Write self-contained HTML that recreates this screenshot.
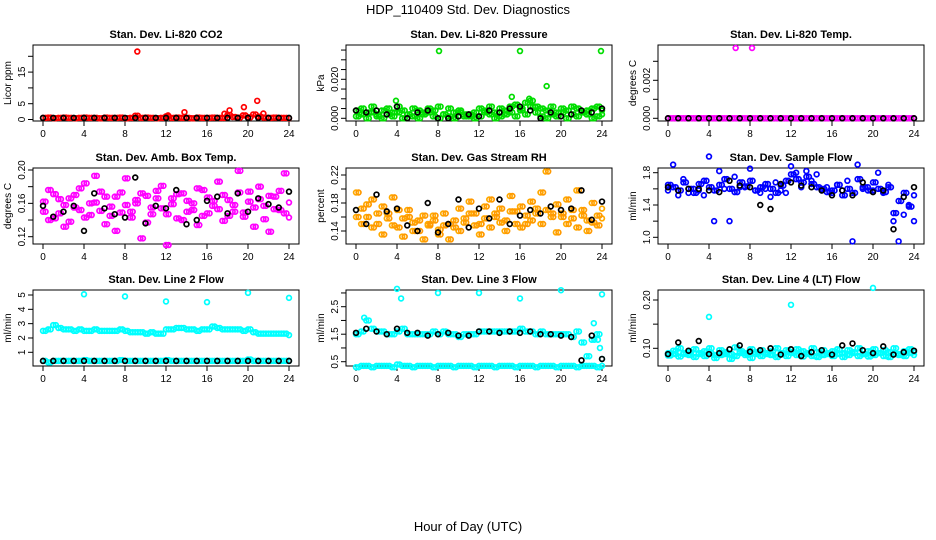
<!DOCTYPE html>
<html><head><meta charset="utf-8">
<style>
html,body{margin:0;padding:0;background:#fff;}
svg{display:block;font-family:"Liberation Sans",sans-serif;}
</style></head>
<body>
<svg id="chart" width="936" height="540" viewBox="0 0 936 540">
<text x="468" y="14" text-anchor="middle" font-size="13">HDP_110409  Std. Dev. Diagnostics</text>
<text x="468" y="531" text-anchor="middle" font-size="13">Hour of Day (UTC)</text>
</svg>
<script>
// shared time axes
const HALF = [0,0.5,1,1.5,2,2.5,3,3.5,4,4.5,5,5.5,6,6.5,7,7.5,8,8.5,9,9.5,10,10.5,11,11.5,12,12.5,13,13.5,14,14.5,15,15.5,16,16.5,17,17.5,18,18.5,19,19.5,20,20.5,21,21.5,22,22.5,23,23.5,24];
const OFFS = [0.25,0.75,1.25,1.75,2.25,2.75,3.25,3.75,4.25,4.75,5.25,5.75,6.25,6.75,7.25,7.75,8.25,8.75,9.25,9.75,10.25,10.75,11.25,11.75,12.25,12.75,13.25,13.75,14.25,14.75,15.25,15.75,16.25,16.75,17.25,17.75,18.25,18.75,19.25,19.75,20.25,20.75,21.25,21.75,22.25,22.75,23.25,23.75];
const HOURS = [0,1,2,3,4,5,6,7,8,9,10,11,12,13,14,15,16,17,18,19,20,21,22,23,24];
const xTicks = [0,4,8,12,16,20,24];

// Panel 1 CO2
const co2Red = [0.5,0.6,0.4,0.5,0.6,0.5,0.4,0.5,0.6,0.5,0.5,0.4,0.6,0.5,0.5,0.6,0.4,0.5,1.2,0.5,0.6,0.5,0.4,0.5,1.0,0.5,0.6,0.5,0.5,0.4,0.6,0.5,0.5,0.6,0.5,0.5,1.4,0.8,0.6,1.3,0.7,1.6,0.9,0.6,0.5,0.6,0.5,0.5,0.4];
const co2Black = [0.5,0.5,0.5,0.5,0.5,0.5,0.5,0.5,0.5,0.5,0.5,0.5,0.5,0.5,0.5,0.5,0.5,0.5,0.5,0.5,0.5,0.5,0.5,0.5,0.5];
const co2OutX = [9.2,13.8,17.7,18.2,19.6,20.9,21.5,12.2];
const co2OutY = [21.5,2.3,1.8,2.9,3.9,5.9,1.9,1.3];

// Panel 2 Pressure
const presGreenA = [0.004,0.005,0.003,0.006,0.002,0.004,0.005,0.003,0.006,0.004,0.002,0.005,0.004,0.003,0.005,0.004,0.006,0.002,0.005,0.003,0.004,0.002,0.001,0.003,0.005,0.004,0.006,0.003,0.005,0.004,0.006,0.007,0.005,0.008,0.009,0.006,0.005,0.004,0.006,0.003,0.005,0.004,0.006,0.005,0.003,0.004,0.005,0.006,0.004];
const presGreenB = [0.001,0.002,0.000,0.003,0.001,0.000,0.002,0.001,0.003,0.000,0.002,0.001,0.000,0.002,0.003,0.001,0.000,0.002,0.001,0.000,0.003,0.001,0.002,0.000,0.001,0.003,0.002,0.000,0.001,0.002,0.003,0.001,0.004,0.002,0.006,0.003,0.001,0.000,0.002,0.001,0.003,0.000,0.002,0.001,0.003,0.002,0.000,0.001,0.002];
const presBlack = [0.004,0.003,0.004,0.002,0.006,0.000,0.003,0.004,0.000,0.000,0.001,0.002,0.001,0.004,0.003,0.005,0.006,0.004,0.000,0.003,0.001,0.002,0.004,0.003,0.005];
const presOutX = [8.1,16,23.9,18.6,15.2,3.9,16.9];
const presOutY = [0.0345,0.0345,0.0345,0.0165,0.011,0.009,0.010];

// Panel 3 Temp
const tempMag = [0,0,0,0,0,0,0,0,0,0,0,0,0,0,0,0,0,0,0,0,0,0,0,0,0,0,0,0,0,0,0,0,0,0,0,0,0,0,0,0,0,0,0,0,0,0,0,0,0];
const tempBlack = [0,0,0,0,0,0,0,0,0,0,0,0,0,0,0,0,0,0,0,0,0,0,0,0,0];
const tempOutX = [6.6,8.2];
const tempOutY = [0.0037,0.0037];

// Panel 4 Amb box temp
const ambMagA = [0.150,0.176,0.142,0.165,0.158,0.138,0.170,0.152,0.184,0.146,0.161,0.174,0.135,0.156,0.168,0.149,0.190,0.143,0.160,0.172,0.137,0.155,0.166,0.181,0.147,0.159,0.171,0.140,0.163,0.152,0.178,0.145,0.167,0.157,0.186,0.139,0.164,0.150,0.173,0.144,0.162,0.155,0.180,0.141,0.169,0.153,0.175,0.148,0.161];
const ambMagB = [0.162,0.140,0.171,0.148,0.132,0.166,0.155,0.178,0.143,0.160,0.193,0.151,0.168,0.145,0.127,0.173,0.158,0.150,0.164,0.118,0.169,0.147,0.175,0.154,0.110,0.166,0.142,0.172,0.150,0.160,0.134,0.176,0.148,0.163,0.153,0.170,0.145,0.158,0.199,0.149,0.174,0.132,0.165,0.157,0.126,0.168,0.152,0.196,0.143];
const ambBlack = [0.157,0.144,0.150,0.157,0.127,0.172,0.154,0.147,0.143,0.191,0.136,0.157,0.154,0.176,0.135,0.140,0.163,0.168,0.148,0.172,0.150,0.166,0.159,0.155,0.174];

// Panel 5 RH
const rhOrA = [0.195,0.172,0.160,0.185,0.150,0.175,0.165,0.188,0.145,0.158,0.170,0.152,0.140,0.162,0.148,0.155,0.135,0.165,0.150,0.145,0.172,0.158,0.182,0.165,0.150,0.175,0.185,0.160,0.172,0.155,0.190,0.168,0.175,0.150,0.182,0.165,0.195,0.170,0.160,0.178,0.165,0.185,0.158,0.198,0.170,0.155,0.180,0.162,0.172];
const rhOrB = [0.160,0.150,0.178,0.145,0.165,0.135,0.158,0.148,0.170,0.132,0.160,0.140,0.155,0.128,0.150,0.162,0.142,0.148,0.128,0.155,0.140,0.152,0.165,0.148,0.135,0.158,0.145,0.165,0.152,0.140,0.168,0.150,0.145,0.162,0.155,0.172,0.150,0.225,0.165,0.138,0.160,0.150,0.170,0.145,0.162,0.140,0.152,0.148,0.158];
const rhBlack = [0.170,0.150,0.192,0.168,0.172,0.148,0.140,0.180,0.138,0.150,0.185,0.145,0.172,0.158,0.185,0.150,0.162,0.170,0.165,0.175,0.170,0.172,0.198,0.156,0.182];

// Panel 6 Sample flow
const sfBlueA = [1.65,1.62,1.58,1.68,1.60,1.55,1.66,1.70,1.62,1.58,1.65,1.72,1.60,1.56,1.68,1.63,1.70,1.58,1.62,1.66,1.60,1.55,1.64,1.70,1.78,1.72,1.68,1.75,1.66,1.62,1.60,1.56,1.58,1.65,1.52,1.60,1.55,1.72,1.62,1.58,1.68,1.60,1.56,1.62,1.30,1.45,1.55,1.38,1.52];
const sfBlueB = [1.58,1.90,1.52,1.72,1.55,1.60,1.58,1.52,2.00,1.20,1.82,1.60,1.20,1.75,1.62,1.62,1.85,1.58,1.55,1.60,1.50,1.68,1.58,1.55,1.88,1.80,1.62,1.82,1.70,1.78,1.58,1.62,1.55,1.65,1.58,1.70,0.95,1.90,1.60,1.62,1.58,1.80,1.55,1.65,1.20,0.95,1.28,1.40,1.20];
const sfBlack = [1.62,1.58,1.60,1.60,1.58,1.56,1.70,1.64,1.62,1.40,1.35,1.66,1.68,1.64,1.62,1.58,1.52,1.58,1.52,1.68,1.56,1.58,1.10,1.50,1.62];

// Panel 7 Line 2
const l2CyanTop = [2.5,2.6,2.9,2.7,2.6,2.6,2.5,2.6,2.5,2.5,2.6,2.5,2.5,2.5,2.5,2.6,2.5,2.4,2.4,2.4,2.3,2.4,2.3,2.3,2.6,2.6,2.7,2.7,2.6,2.6,2.5,2.6,2.6,2.8,2.7,2.6,2.6,2.6,2.6,2.5,2.6,2.4,2.3,2.3,2.3,2.3,2.3,2.3,2.2];
const l2CyanLow = [0.4,0.3,0.4,0.4,0.4,0.4,0.4,0.4,0.45,0.4,0.4,0.4,0.4,0.4,0.4,0.45,0.4,0.4,0.4,0.4,0.4,0.4,0.4,0.4,0.45,0.4,0.4,0.4,0.4,0.4,0.4,0.4,0.4,0.4,0.4,0.4,0.4,0.4,0.4,0.4,0.5,0.4,0.4,0.4,0.4,0.4,0.4,0.4,0.4];
const l2Black = [0.4,0.4,0.4,0.4,0.4,0.4,0.4,0.4,0.4,0.4,0.4,0.4,0.4,0.4,0.4,0.4,0.4,0.4,0.4,0.4,0.4,0.4,0.4,0.4,0.4];
const l2OutX = [4,8,12,16,20,24];
const l2OutY = [5.05,4.9,4.55,4.5,5.15,4.8];

// Panel 8 Line 3
const l3CyanTop = [1.5,1.6,2.0,1.7,1.6,1.6,1.5,1.5,1.6,1.7,1.5,1.5,1.5,1.5,1.5,1.6,1.5,1.6,1.5,1.5,1.4,1.5,1.5,1.5,1.6,1.6,1.6,1.6,1.6,1.6,1.6,1.6,1.7,1.6,1.6,1.5,1.6,1.5,1.5,1.5,1.5,1.5,1.4,1.6,1.2,0.7,1.3,1.5,0.6];
const l3CyanLow = [0.3,0.35,0.35,0.3,0.35,0.35,0.35,0.3,0.4,0.35,0.35,0.3,0.35,0.35,0.35,0.3,0.35,0.35,0.35,0.3,0.35,0.35,0.35,0.3,0.35,0.35,0.35,0.3,0.35,0.35,0.35,0.3,0.35,0.35,0.35,0.3,0.35,0.35,0.35,0.3,0.35,0.35,0.35,0.3,0.35,0.35,0.35,0.3,0.35];
const l3Black = [1.55,1.7,1.6,1.5,1.7,1.55,1.55,1.45,1.5,1.55,1.45,1.45,1.6,1.6,1.55,1.6,1.55,1.6,1.5,1.5,1.45,1.4,0.55,1.45,0.6];
const l3OutX = [4,4.4,8,12,16,20,24,0.8,23.2,23.6,23.8];
const l3OutY = [3.15,2.8,3.0,3.0,2.8,3.1,2.95,2.1,1.9,1.3,1.0];

// Panel 9 Line 4
const l4CyanA = [0.090,0.095,0.100,0.088,0.092,0.098,0.090,0.094,0.100,0.086,0.096,0.092,0.088,0.102,0.094,0.090,0.098,0.092,0.096,0.088,0.094,0.100,0.090,0.096,0.092,0.098,0.094,0.090,0.100,0.092,0.096,0.088,0.094,0.098,0.090,0.096,0.092,0.100,0.088,0.094,0.098,0.090,0.096,0.092,0.100,0.088,0.094,0.098,0.092];
const l4CyanB = [0.085,0.088,0.083,0.090,0.086,0.082,0.088,0.084,0.090,0.080,0.086,0.088,0.078,0.084,0.090,0.086,0.080,0.088,0.084,0.090,0.086,0.082,0.088,0.084,0.090,0.086,0.083,0.088,0.084,0.082,0.086,0.090,0.084,0.088,0.082,0.086,0.090,0.084,0.088,0.083,0.086,0.090,0.084,0.082,0.088,0.086,0.084,0.090,0.086];
const l4Black = [0.088,0.112,0.095,0.115,0.088,0.090,0.098,0.106,0.093,0.096,0.100,0.087,0.098,0.084,0.092,0.096,0.087,0.106,0.110,0.096,0.090,0.104,0.087,0.092,0.095];
const l4OutX = [4,12,20];
const l4OutY = [0.165,0.19,0.225];

const NS = "http://www.w3.org/2000/svg";
const svg = document.getElementById("chart");
function mk(tag, attrs, parent){const e=document.createElementNS(NS,tag);for(const k in attrs)e.setAttribute(k,attrs[k]);(parent||svg).appendChild(e);return e;}

const colLeft=[33,346,658], rowTop=[45,168,290], BW=266, BH=76;

function drawPanel(p){
  const L=colLeft[p.col], T=rowTop[p.row];
  const g=mk("g",{});
  
  
  const xs=h=>L+10+h*(246/24);
  const ys=v=>p.p0+(v-p.v0)*(p.p1-p.p0)/(p.v1-p.v0);
  const t=mk("text",{x:L+BW/2,y:T-7,"text-anchor":"middle","font-size":"11","font-weight":"bold"},g);
  t.textContent=p.title;
  
  
  const box=mk("rect",{x:L,y:T,width:BW,height:BH,fill:"none",stroke:"#000","stroke-width":1},g);
  
  
  xTicks.forEach(h=>{
    mk("line",{x1:xs(h),x2:xs(h),y1:T+BH,y2:T+BH+5,stroke:"#000"},g);
    const tx=mk("text",{x:xs(h),y:T+BH+16,"text-anchor":"middle","font-size":"10"},g);
    tx.textContent=h;
    
    
  });
  mk("line",{x1:xs(0),x2:xs(24),y1:T+BH,y2:T+BH,stroke:"#000"},g);
  const yt=p.ticks;
  mk("line",{x1:L,x2:L,y1:ys(yt[0]),y2:ys(yt[yt.length-1]),stroke:"#000"},g);
  yt.forEach(v=>{
    mk("line",{x1:L-5,x2:L,y1:ys(v),y2:ys(v),stroke:"#000"},g);
  });
  p.labels.forEach((lab,i)=>{
    const v=p.labelVals[i];
    const ty=mk("text",{x:L-8,y:ys(v),"text-anchor":"middle","font-size":"10",transform:`rotate(-90 ${L-8} ${ys(v)})`},g);
    ty.textContent=lab;
    
    
  });
  const yl=mk("text",{x:L-22,y:T+BH/2,"text-anchor":"middle","font-size":"10",transform:`rotate(-90 ${L-22} ${T+BH/2})`},g);
  yl.textContent=p.ylab;
  
  
  p.series.forEach(s=>{
    s.y.forEach((v,i)=>{
      if(s.x[i]===undefined) return;
      const c=mk("circle",{cx:xs(s.x[i]),cy:ys(v),r:2.4,fill:"none",stroke:s.color,"stroke-width":1.7},g);
      
      
    });
  });
}

const panels=[
 {name:"panel-co2",col:0,row:0,title:"Stan. Dev. Li-820 CO2",ylab:"Licor ppm",v0:0,p0:119.5,v1:20,p1:56.3,ticks:[0,5,10,15,20],labels:["0","5","15"],labelVals:[0,5,15],
  series:[{x:HALF,y:co2Red,color:"#ff0000"},{x:OFFS,y:co2Red,color:"#ff0000"},{x:co2OutX,y:co2OutY,color:"#ff0000"},{x:HOURS,y:co2Black,color:"#000"}]},
 {name:"panel-pressure",col:1,row:0,title:"Stan. Dev. Li-820 Pressure",ylab:"kPa",v0:0,p0:118.3,v1:0.02,p1:79.3,ticks:[0,0.005,0.01,0.015,0.02,0.025,0.03,0.035],labels:["0.000","0.020"],labelVals:[0,0.02],
  series:[{x:HALF,y:presGreenA,color:"#00dd00"},{x:HALF,y:presGreenB,color:"#00dd00"},{x:OFFS,y:presGreenA,color:"#00dd00"},{x:OFFS,y:presGreenB,color:"#00dd00"},{x:presOutX,y:presOutY,color:"#00dd00"},{x:HOURS,y:presBlack,color:"#000"}]},
 {name:"panel-temp",col:2,row:0,title:"Stan. Dev. Li-820 Temp.",ylab:"degrees C",v0:0,p0:118.3,v1:0.002,p1:80.3,ticks:[0,0.001,0.002,0.003],labels:["0.000","0.002"],labelVals:[0,0.002],
  series:[{x:HALF,y:tempMag,color:"#ff00ff"},{x:OFFS,y:tempMag,color:"#ff00ff"},{x:tempOutX,y:tempOutY,color:"#ff00ff"},{x:HOURS,y:tempBlack,color:"#000"}]},
 {name:"panel-amb-temp",col:0,row:1,title:"Stan. Dev. Amb. Box Temp.",ylab:"degrees C",v0:0.12,p0:236.7,v1:0.20,p1:170,ticks:[0.12,0.14,0.16,0.18,0.20],labels:["0.12","0.16","0.20"],labelVals:[0.12,0.16,0.20],
  series:[{x:HALF,y:ambMagA,color:"#ff00ff"},{x:HALF,y:ambMagB,color:"#ff00ff"},{x:OFFS,y:ambMagB,color:"#ff00ff"},{x:OFFS,y:ambMagA,color:"#ff00ff"},{x:HOURS,y:ambBlack,color:"#000"}]},
 {name:"panel-rh",col:1,row:1,title:"Stan. Dev. Gas Stream RH",ylab:"percent",v0:0.14,p0:231,v1:0.22,p1:175,ticks:[0.14,0.16,0.18,0.20,0.22],labels:["0.14","0.18","0.22"],labelVals:[0.14,0.18,0.22],
  series:[{x:HALF,y:rhOrA,color:"#ffaa00"},{x:HALF,y:rhOrB,color:"#ffaa00"},{x:OFFS,y:rhOrB,color:"#ff9900"},{x:OFFS,y:rhOrA,color:"#ff9900"},{x:HOURS,y:rhBlack,color:"#000"}]},
 {name:"panel-sample-flow",col:2,row:1,title:"Stan. Dev. Sample Flow",ylab:"ml/min",v0:1.0,p0:237.3,v1:1.8,p1:172.7,ticks:[1.0,1.2,1.4,1.6,1.8],labels:["1.0","1.4","1.8"],labelVals:[1.0,1.4,1.8],
  series:[{x:HALF,y:sfBlueA,color:"#0000ff"},{x:HALF,y:sfBlueB,color:"#0000ff"},{x:OFFS,y:sfBlueA,color:"#0000ff"},{x:HOURS,y:sfBlack,color:"#000"}]},
 {name:"panel-line2",col:0,row:2,title:"Stan. Dev. Line 2 Flow",ylab:"ml/min",v0:1,p0:352.3,v1:5,p1:295,ticks:[1,2,3,4,5],labels:["1","2","3","4","5"],labelVals:[1,2,3,4,5],
  series:[{x:HALF,y:l2CyanTop,color:"#00ffff"},{x:OFFS,y:l2CyanTop,color:"#00ffff"},{x:HALF,y:l2CyanLow,color:"#00ffff"},{x:OFFS,y:l2CyanLow,color:"#00ffff"},{x:l2OutX,y:l2OutY,color:"#00ffff"},{x:HOURS,y:l2Black,color:"#000"}]},
 {name:"panel-line3",col:1,row:2,title:"Stan. Dev. Line 3 Flow",ylab:"ml/min",v0:0.5,p0:361.7,v1:2.5,p1:306.7,ticks:[0.5,1,1.5,2,2.5,3],labels:["0.5","1.5","2.5"],labelVals:[0.5,1.5,2.5],
  series:[{x:HALF,y:l3CyanTop,color:"#00ffff"},{x:OFFS,y:l3CyanTop,color:"#00ffff"},{x:HALF,y:l3CyanLow,color:"#00ffff"},{x:OFFS,y:l3CyanLow,color:"#00ffff"},{x:l3OutX,y:l3OutY,color:"#00ffff"},{x:HOURS,y:l3Black,color:"#000"}]},
 {name:"panel-line4",col:2,row:2,title:"Stan. Dev. Line 4 (LT) Flow",ylab:"ml/min",v0:0.10,p0:348.3,v1:0.20,p1:300,ticks:[0.10,0.15,0.20],labels:["0.10","0.20"],labelVals:[0.10,0.20],
  series:[{x:HALF,y:l4CyanA,color:"#00ffff"},{x:HALF,y:l4CyanB,color:"#00ffff"},{x:OFFS,y:l4CyanB,color:"#00ffff"},{x:OFFS,y:l4CyanA,color:"#00ffff"},{x:l4OutX,y:l4OutY,color:"#00ffff"},{x:HOURS,y:l4Black,color:"#000"}]}
];
panels.forEach(drawPanel);
</script>
</body></html>
